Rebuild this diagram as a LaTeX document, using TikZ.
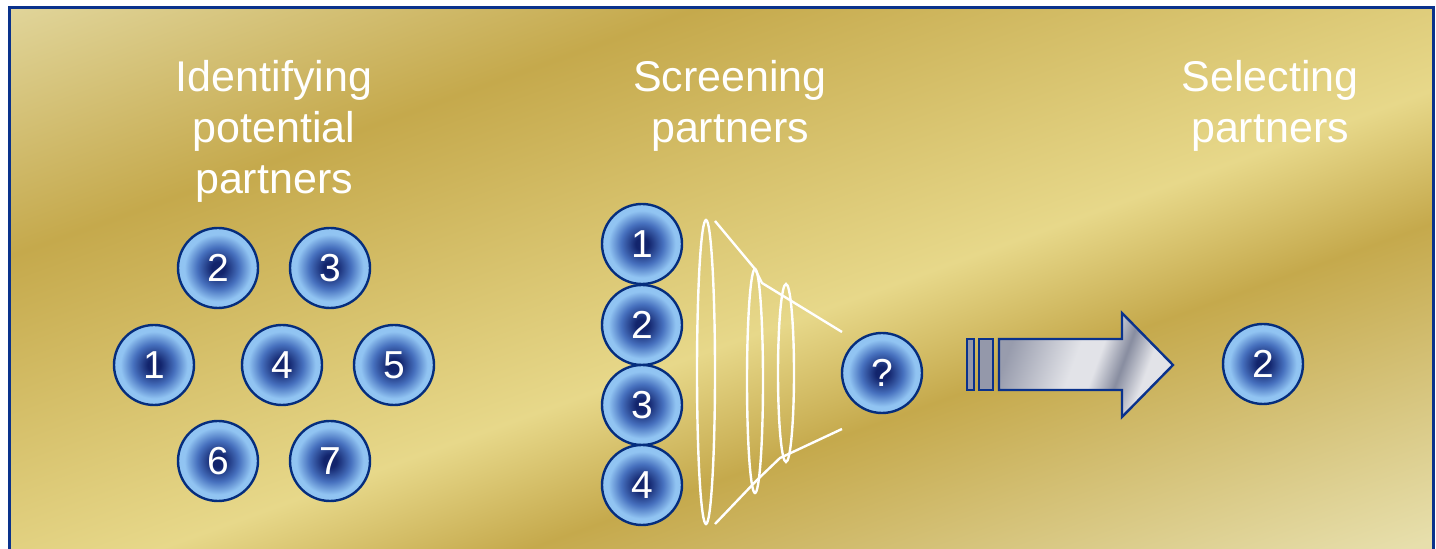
\documentclass[tikz,border=0pt]{standalone}
\usepackage{fontspec}
\setmainfont{Liberation Sans}
\definecolor{frameblue}{RGB}{10,50,140}
\definecolor{gcream}{RGB}{231,223,172}
\definecolor{gdark}{RGB}{197,169,76}
\definecolor{glight}{RGB}{231,216,138}
\definecolor{bnavy}{RGB}{18,36,108}
\definecolor{bmid}{RGB}{70,112,190}
\definecolor{blight}{RGB}{145,196,242}
\definecolor{bline}{RGB}{5,45,125}
\definecolor{sleft}{RGB}{152,156,173}
\definecolor{sdark}{RGB}{136,141,160}
\definecolor{slight}{RGB}{226,227,232}
\definecolor{srect}{RGB}{148,152,170}
\pgfdeclareverticalshading{goldbands}{100bp}{color(0bp)=(gcream); color(29.6bp)=(gcream); color(35.8bp)=(gdark); color(38.4bp)=(glight); color(45.2bp)=(gdark); color(51.2bp)=(gcream); color(100bp)=(gcream)}
\pgfdeclareradialshading{ballshade}{\pgfpointorigin}{color(0bp)=(bnavy); color(4bp)=(bnavy); color(13bp)=(bmid); color(21bp)=(blight); color(25bp)=(blight); color(50bp)=(blight)}
\pgfdeclarehorizontalshading{silver}{100bp}{color(0bp)=(sleft); color(25bp)=(sleft); color(46bp)=(slight); color(53bp)=(slight); color(61bp)=(sdark); color(69bp)=(slight); color(75bp)=(slight); color(100bp)=(slight)}
\tikzset{
  ball/.style={circle, draw=bline, line width=1.2pt, shade, shading=ballshade, minimum size=40pt, inner sep=0pt, text=white, font=\fontsize{19.5}{19.5}\selectfont},
  title/.style={text=white, align=center, inner sep=0pt, anchor=north, font=\fontsize{21.5}{25.5}\selectfont},
  funnel/.style={draw=white, line width=1.2pt},
  arrowline/.style={draw=frameblue, line width=1.2pt, line join=miter}
}
\begin{document}
\begin{tikzpicture}[x=0.5pt,y=-0.5pt]
\useasboundingbox (0,0) rectangle (1436,549);
\fill[white] (0,0) rectangle (1436,549);
% background
\begin{scope}
  \clip (9,8) rectangle (1433,600);
  \shade[shading=goldbands, transform canvas={rotate around={19.8:(40,0)}}] (-2500,-1200) rectangle (2500,1200);
\end{scope}
\draw[frameblue, line width=1.5pt] (9,8) rectangle (1433,620);
% titles
\node[title] (t1) at (274,60) {Identifying\\potential\\partners};
\node[title] (t2) at (730,60) {Screening\\partners};
\node[title] (t3) at (1270,60) {Selecting\\partners};
% identifying group
\node[ball] (i2) at (218,268) {2};
\node[ball] (i3) at (330,268) {3};
\node[ball] (i1) at (154,365) {1};
\node[ball] (i4) at (282,365) {4};
\node[ball] (i5) at (394,365) {5};
\node[ball] (i6) at (218,461) {6};
\node[ball] (i7) at (330,461) {7};
% screening column
\node[ball] (s1) at (642,244) {1};
\node[ball] (s2) at (642,325) {2};
\node[ball] (s3) at (642,405) {3};
\node[ball] (s4) at (642,485) {4};
\node[ball] (q) at (882,373) {?};
% funnel
\draw[funnel] (706,372) ellipse [x radius=9, y radius=152];
\draw[funnel] (755,381) ellipse [x radius=8, y radius=112];
\draw[funnel] (786,373) ellipse [x radius=8, y radius=89];
\draw[funnel] (715,221) -- (755,269) -- (762,283) -- (842,332);
\draw[funnel] (715,524) -- (757,480) -- (780,458) -- (842,429);
% striped arrow
\filldraw[arrowline, fill=srect] (967,339) rectangle (974,390);
\filldraw[arrowline, fill=srect] (979,339) rectangle (993,390);
\draw[arrowline, shade, shading=silver, shading angle=-20] (999,339) -- (1122,339) -- (1122,313) -- (1173,365) -- (1122,417) -- (1122,390) -- (999,390) -- cycle;
% selected
\node[ball] (r2) at (1263,364) {2};
\end{tikzpicture}
\end{document}
